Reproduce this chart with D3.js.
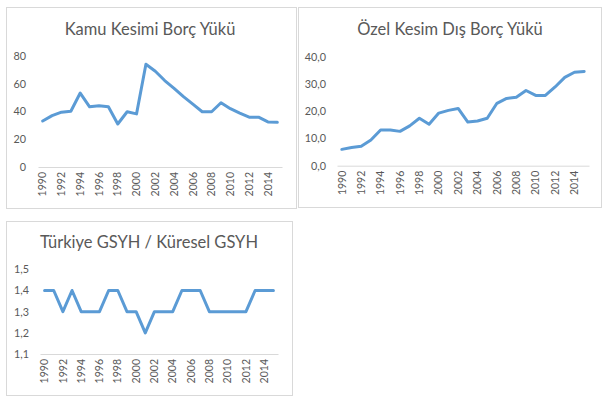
<!DOCTYPE html>
<html>
<head>
<meta charset="utf-8">
<script src="https://cdn.jsdelivr.net/npm/d3@7"></script>
<style>
  body { margin: 0; background: #fff; }
  text { font-family: Lato, "Open Sans", sans-serif; fill: #595959; }
</style>
</head>
<body>
<svg id="chart" width="611" height="418"></svg>
<script>
// years on the category axis
const years = d3.range(1990, 2016);
const yearLabels = years.filter(y => y % 2 === 0);

// Kamu Kesimi Borç Yükü
const kamuBorc = [33.2, 37, 39.5, 40.2, 53.3, 43.4, 44.1, 43.4, 31, 39.8, 38.3, 74, 69, 62.3, 56.7, 50.7,
                  45.3, 39.8, 39.8, 46.3, 42, 38.8, 35.9, 35.9, 32.5, 32.2];
// Özel Kesim Dış Borç Yükü
const ozelBorc = [6.0, 6.7, 7.1, 9.4, 13.1, 13.1, 12.6, 14.6, 17.4, 15.2, 19.3, 20.3, 21.0, 16.0, 16.4, 17.4,
                  22.9, 24.7, 25.1, 27.6, 25.8, 25.8, 28.9, 32.4, 34.3, 34.6];
// Türkiye GSYH / Küresel GSYH
const gsyhOran = [1.4, 1.4, 1.3, 1.4, 1.3, 1.3, 1.3, 1.4, 1.4, 1.3, 1.3, 1.2, 1.3, 1.3, 1.3, 1.4,
                  1.4, 1.4, 1.3, 1.3, 1.3, 1.3, 1.3, 1.4, 1.4, 1.4];

const ticks1 = [0, 20, 40, 60, 80];
const ticks2 = [0, 10, 20, 30, 40];
const ticks3 = [1.1, 1.2, 1.3, 1.4, 1.5];

const trLocale = d3.formatLocale({decimal: ",", thousands: ".", grouping: [3], currency: ["", "TL"]});

const svg = d3.select("#chart");

function drawPanel(cfg) {
  const g = svg.append("g");

  // frame
  g.append("rect")
    .attr("x", cfg.frame[0] + 0.5).attr("y", cfg.frame[1] + 0.5)
    .attr("width", cfg.frame[2] - cfg.frame[0]).attr("height", cfg.frame[3] - cfg.frame[1])
    .attr("fill", "#fff").attr("stroke", "#d9d9d9");

  g.append("text")
    .attr("x", cfg.titleX).attr("y", cfg.titleY)
    .attr("text-anchor", "middle")
    .style("font-size", "16.5px")
    .text(cfg.title);

  const x = d3.scaleBand().domain(years).range([cfg.left, cfg.right]);
  const y = d3.scaleLinear().domain(cfg.domain).range([cfg.bottom, cfg.top]);

  // y labels
  const yAxis = g.append("g")
    .attr("transform", `translate(${cfg.labelX},0)`)
    .call(d3.axisLeft(y).tickValues(cfg.ticks).tickSize(0).tickPadding(0).tickFormat(cfg.format));
  yAxis.select(".domain").remove();
  yAxis.selectAll("text").style("font-size", "10.8px").style("font-family", null).attr("fill", null);

  // category axis
  const xAxis = g.append("g")
    .attr("transform", `translate(0,${cfg.bottom})`)
    .call(d3.axisBottom(x).tickValues(yearLabels).tickSize(0).tickSizeOuter(0));
  xAxis.select(".domain").attr("stroke", "#d9d9d9");
  xAxis.selectAll("text")
    .attr("transform", "rotate(-90)")
    .attr("x", -5).attr("y", 0).attr("dy", "0.35em")
    .attr("text-anchor", "end")
    .attr("fill", null)
    .style("font-family", null)
    .style("font-size", "10.5px");

  const line = d3.line()
    .x((d, i) => x(years[i]) + x.bandwidth() / 2)
    .y(d => y(d));

  g.append("path")
    .datum(cfg.values)
    .attr("d", line)
    .attr("fill", "none")
    .attr("stroke", "#5b9bd5")
    .attr("stroke-width", 3)
    .attr("stroke-linejoin", "round")
    .attr("stroke-linecap", "round");
}

drawPanel({
  title: "Kamu Kesimi Borç Yükü", values: kamuBorc, ticks: ticks1, domain: [0, 80],
  format: d3.format("d"),
  frame: [6, 7, 296, 208], titleX: 150, titleY: 35,
  left: 38, right: 282, top: 56, bottom: 167, labelX: 26
});

drawPanel({
  title: "Özel Kesim Dış Borç Yükü", values: ozelBorc, ticks: ticks2, domain: [0, 40],
  format: trLocale.format(".1f"),
  frame: [298, 7, 601, 207], titleX: 450, titleY: 35,
  left: 337, right: 589, top: 56.7, bottom: 165.7, labelX: 326
});

drawPanel({
  title: "Türkiye GSYH / Küresel GSYH", values: gsyhOran, ticks: ticks3, domain: [1.1, 1.5],
  format: trLocale.format(".1f"),
  frame: [6, 221, 292, 395], titleX: 149, titleY: 248,
  left: 40, right: 278, top: 269.3, bottom: 354, labelX: 29
});
</script>
</body>
</html>
